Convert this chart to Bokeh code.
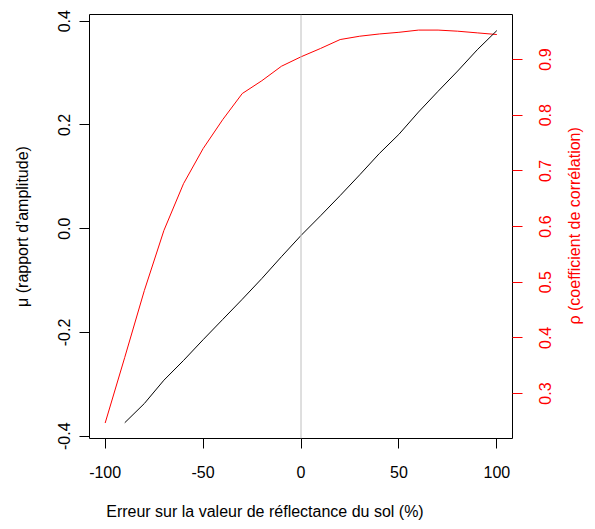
import math
from bokeh.plotting import figure
from bokeh.models import Range1d, LinearAxis, FixedTicker, Span
from bokeh.embed import file_html
from bokeh.resources import INLINE

# ---- data ----
x_rho = [-100, -90, -80, -70, -60, -50, -40, -30, -20, -10, 0,
         10, 20, 30, 40, 50, 60, 70, 80, 90, 100]
rho = [0.247, 0.365, 0.485, 0.593, 0.677, 0.740, 0.792, 0.839, 0.862, 0.888, 0.905,
       0.920, 0.936, 0.942, 0.946, 0.949, 0.953, 0.953, 0.951, 0.948, 0.945]

x_mu = [-90, -80, -70, -60, -50, -40, -30, -20, -10, 0,
        10, 20, 30, 40, 50, 60, 70, 80, 90, 100]
mu = [-0.374, -0.337, -0.292, -0.254, -0.214, -0.175, -0.136, -0.096, -0.054, -0.013,
      0.025, 0.064, 0.104, 0.145, 0.182, 0.225, 0.265, 0.304, 0.345, 0.382]

x_ticks = [-100, -50, 0, 50, 100]
x_tick_labels = ["-100", "-50", "0", "50", "100"]
mu_ticks = [-0.4, -0.2, 0.0, 0.2, 0.4]
mu_tick_labels = ["-0.4", "-0.2", "0.0", "0.2", "0.4"]
rho_ticks = [0.3, 0.4, 0.5, 0.6, 0.7, 0.8, 0.9]
rho_tick_labels = ["0.3", "0.4", "0.5", "0.6", "0.7", "0.8", "0.9"]
ref_x = 0

x_title = "Erreur sur la valeur de réflectance du sol (%)"
y_title = "μ (rapport d'amplitude)"
y2_title = "ρ (coefficient de corrélation)"

# layout constants (axis units): rotated labels on the right start at their
# anchor, so anchors sit half a label length below the point they centre on
X_TITLE_AT = -18.4
RHO_LABEL_SHIFT = 0.020
Y2_TITLE_ANCHOR = 0.424

FONT = "Liberation Sans"
FS = "16px"

p = figure(width=595, height=529, output_backend="svg", toolbar_location=None,
           x_range=Range1d(-108, 108), y_range=Range1d(-0.4044, 0.413),
           min_border_left=89, min_border_right=83, min_border_top=14,
           min_border_bottom=91, x_axis_location=None, y_axis_location=None)
p.grid.visible = False
p.outline_line_color = "black"
p.outline_line_width = 1
p.background_fill_color = "white"
p.border_fill_color = "white"
p.extra_y_ranges = {"rho": Range1d(0.2192, 0.981)}


def style_axis(ax, color, standoff, orient=None):
    ax.axis_line_color = None
    ax.major_tick_line_color = color
    ax.major_tick_out = 10
    ax.major_tick_in = 0
    ax.minor_tick_line_color = None
    ax.major_label_text_font = FONT
    ax.major_label_text_font_size = FS
    ax.major_label_text_color = color
    ax.major_label_standoff = standoff
    ax.axis_label_text_font = FONT
    ax.axis_label_text_font_size = FS
    ax.axis_label_text_font_style = "normal"
    ax.axis_label_text_color = color
    if orient is not None:
        ax.major_label_orientation = orient


# bottom axis
xax = LinearAxis(ticker=FixedTicker(ticks=x_ticks),
                 major_label_overrides=dict(zip(x_ticks, x_tick_labels)))
style_axis(xax, "black", 17)
p.add_layout(xax, "below")

# x title, written as the single label of a tick-less axis under the x axis
xt = LinearAxis(ticker=FixedTicker(ticks=[X_TITLE_AT]),
                major_label_overrides={X_TITLE_AT: x_title})
style_axis(xt, "black", 22)
xt.major_tick_line_color = None
xt.major_tick_out = 0
p.add_layout(xt, "below")

# left axis (labels parallel to the axis, centred on their ticks)
yax = LinearAxis(ticker=FixedTicker(ticks=mu_ticks), axis_label=y_title,
                 major_label_overrides=dict(zip(mu_ticks, mu_tick_labels)))
style_axis(yax, "black", 9, "parallel")
yax.axis_label_standoff = 25
p.add_layout(yax, "left")

# right axis (rho): red tick marks as minor ticks at the true values,
# labels on shifted (invisible) major ticks so that they look centred
rho_label_at = [round(t - RHO_LABEL_SHIFT, 4) for t in rho_ticks]
y2ax = LinearAxis(y_range_name="rho",
                  ticker=FixedTicker(ticks=rho_label_at, minor_ticks=rho_ticks),
                  major_label_overrides=dict(zip(rho_label_at, rho_tick_labels)))
style_axis(y2ax, "red", 23, math.pi / 2)
y2ax.major_tick_line_color = "white"
y2ax.major_tick_in = -1
y2ax.minor_tick_line_color = "red"
y2ax.minor_tick_out = 10
y2ax.minor_tick_in = 0
p.add_layout(y2ax, "right")

# right title, as the single label of a tick-less axis outside the rho axis
y2t = LinearAxis(y_range_name="rho", ticker=FixedTicker(ticks=[Y2_TITLE_ANCHOR]),
                 major_label_overrides={Y2_TITLE_ANCHOR: y2_title})
style_axis(y2t, "red", 14, math.pi / 2)
y2t.major_tick_line_color = None
y2t.major_tick_out = 0
p.add_layout(y2t, "right")

p.add_layout(Span(location=ref_x, dimension="height", line_color="#BEBEBE", line_width=1))

p.line(x_rho, rho, y_range_name="rho", line_color="red", line_width=1)
p.line(x_mu, mu, line_color="black", line_width=1)

open("out.html", "w").write(file_html(p, INLINE))
